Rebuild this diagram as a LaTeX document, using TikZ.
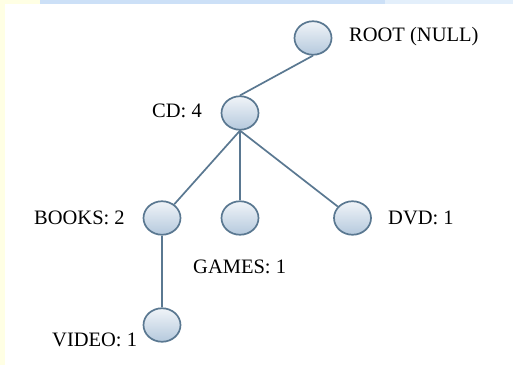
\documentclass[tikz,border=0pt]{standalone}
\usepackage{fontspec}
\setmainfont{Liberation Serif}
\usetikzlibrary{shapes.geometric}
\definecolor{edgecol}{HTML}{5A7891}
\definecolor{topfill}{HTML}{F0F4F8}
\definecolor{botfill}{HTML}{B5C9DD}
\definecolor{bandblue}{HTML}{CCE0F7}
\definecolor{bandpale}{HTML}{E3EFFB}
\definecolor{paleyel}{HTML}{FFFFE4}
\tikzset{
  treenode/.style={ellipse, draw=edgecol, line width=1.7pt, minimum width=37pt, minimum height=33.5pt, inner sep=0pt, top color=topfill, bottom color=botfill},
  link/.style={draw=edgecol, line width=1.7pt},
  lbl/.style={font=\fontsize{20.5}{22}\selectfont, inner sep=0pt, anchor=west}
}
\begin{document}
\begin{tikzpicture}[x=1pt,y=-1pt]
\useasboundingbox (0,0) rectangle (513,365);
\fill[white] (0,0) rectangle (513,365);
\fill[paleyel] (0,0) rectangle (5,365);
\fill[paleyel] (0,0) rectangle (40,4);
\fill[bandblue] (40,0) rectangle (385,4);
\fill[bandpale] (385,0) rectangle (513,4);
\node[treenode] (root) at (313,38) {};
\node[treenode] (cd) at (240,113) {};
\node[treenode] (books) at (162,218) {};
\node[treenode] (games) at (240,218) {};
\node[treenode] (dvd) at (352.5,218) {};
\node[treenode] (video) at (162,325) {};
\draw[link] (root.south) -- (cd.north);
\draw[link] (cd.south) -- (books);
\draw[link] (cd.south) -- (games.north);
\draw[link] (cd.south) -- (dvd);
\draw[link] (books.south) -- (video.north);
\node[lbl] (troot) at (349,37) {ROOT (NULL)};
\node[lbl] (tcd) at (152,111) {CD: 4};
\node[lbl] (tbooks) at (34,218) {BOOKS: 2};
\node[lbl] (tgames) at (193,267) {GAMES: 1};
\node[lbl] (tdvd) at (388,218) {DVD: 1};
\node[lbl] (tvideo) at (52,340) {VIDEO: 1};
\end{tikzpicture}
\end{document}
